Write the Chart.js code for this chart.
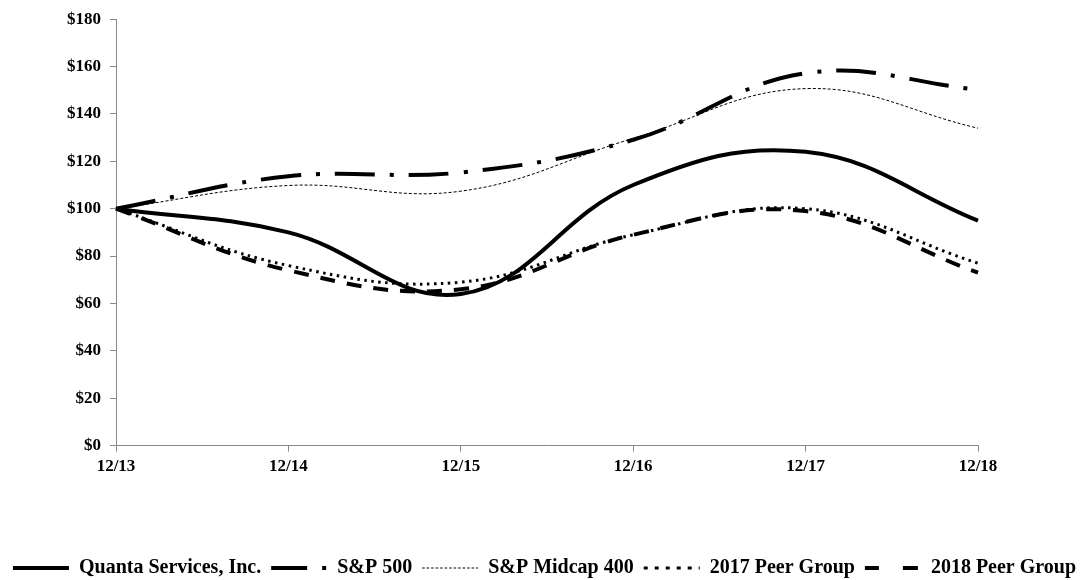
<!DOCTYPE html>
<html>
<head>
<meta charset="utf-8">
<script src="https://cdn.jsdelivr.net/npm/chart.js@4/dist/chart.umd.min.js"></script>
<style>
  html, body { margin: 0; padding: 0; background: #fff; }
  #wrap { width: 1089px; height: 580px; position: relative; }
</style>
</head>
<body>
<div id="wrap"><canvas id="c"></canvas></div>
<script>
const categories = ["12/13", "12/14", "12/15", "12/16", "12/17", "12/18"];
const quanta     = [100, 90, 64, 110, 124, 95];
const sp500      = [100, 113.7, 115.3, 129.1, 157.2, 150.3];
const midcap400  = [100, 109.8, 107.4, 129.7, 150.7, 134.0];
const peer2017   = [100, 76, 69, 89, 100, 77];
const peer2018   = [100, 74, 66, 89, 99, 73];
const yTicks     = [0, 20, 40, 60, 80, 100, 120, 140, 160, 180];
const seriesNames = ['Quanta Services, Inc.', 'S&P 500', 'S&P Midcap 400', '2017 Peer Group', '2018 Peer Group'];

const serif = "'Liberation Serif', 'Times New Roman', serif";

const lineDashes   = [[], [40, 15, 4, 15], [3, 2], [2.5, 4.5], [15, 12]];
const legendDashes = [[], [36, 15, 4, 100], [2.5, 2], [4, 7], [14, 24, 15, 100]];
const lineWidths   = [4, 4, 1, 3, 4];
const allSeries = [quanta, sp500, midcap400, peer2017, peer2018];

new Chart(document.getElementById('c'), {
  type: 'line',
  data: {
    labels: categories,
    datasets: allSeries.map((d, i) => ({
      label: seriesNames[i], data: d, borderColor: '#000',
      borderWidth: lineWidths[i], borderDash: lineDashes[i]
    }))
  },
  options: {
    responsive: true,
    maintainAspectRatio: false,
    devicePixelRatio: 1,
    animation: false,
    layout: { padding: { left: 0, right: 0, top: 9, bottom: -8 } },
    elements: {
      point: { radius: 0, hoverRadius: 0 },
      line: { tension: 0.4, fill: false, borderCapStyle: 'butt' }
    },
    plugins: {
      tooltip: { enabled: false },
      legend: {
        position: 'bottom',
        labels: {
          usePointStyle: true,
          pointStyle: 'line',
          pointStyleWidth: 56,
          boxHeight: 4,
          color: '#000',
          padding: 10,
          font: { family: serif, size: 20, weight: 'bold' },
          generateLabels: (chart) => chart.data.datasets.map((ds, i) => ({
            text: ds.label,
            fillStyle: '#000',
            strokeStyle: '#000',
            fontColor: '#000',
            lineWidth: ds.borderWidth,
            lineDash: legendDashes[i],
            lineCap: 'butt',
            pointStyle: 'line',
            hidden: false,
            datasetIndex: i
          }))
        }
      }
    },
    scales: {
      x: {
        type: 'category',
        offset: false,
        grid: { display: true, drawOnChartArea: false, drawTicks: true, tickLength: 6, color: '#888' },
        border: { display: true, color: '#888', width: 1 },
        ticks: {
          color: '#000', padding: 5, maxRotation: 0,
          font: { family: serif, size: 17, weight: 'bold' }
        },
        afterFit: (scale) => { scale.height += 66; }
      },
      y: {
        min: 0, max: 180,
        afterBuildTicks: (scale) => { scale.ticks = yTicks.map(v => ({ value: v })); },
        grid: { display: true, drawOnChartArea: false, drawTicks: true, tickLength: 6, color: '#888' },
        border: { display: true, color: '#888', width: 1 },
        ticks: {
          color: '#000', padding: 9,
          font: { family: serif, size: 17, weight: 'bold' },
          callback: (v) => '$' + v
        },
        afterFit: (scale) => { scale.width = 116; }
      },
      yRight: {
        position: 'right',
        min: 0, max: 180,
        grid: { display: false },
        border: { display: false },
        ticks: { display: false },
        afterFit: (scale) => { scale.width = 111; }
      }
    }
  }
});
</script>
</body>
</html>
